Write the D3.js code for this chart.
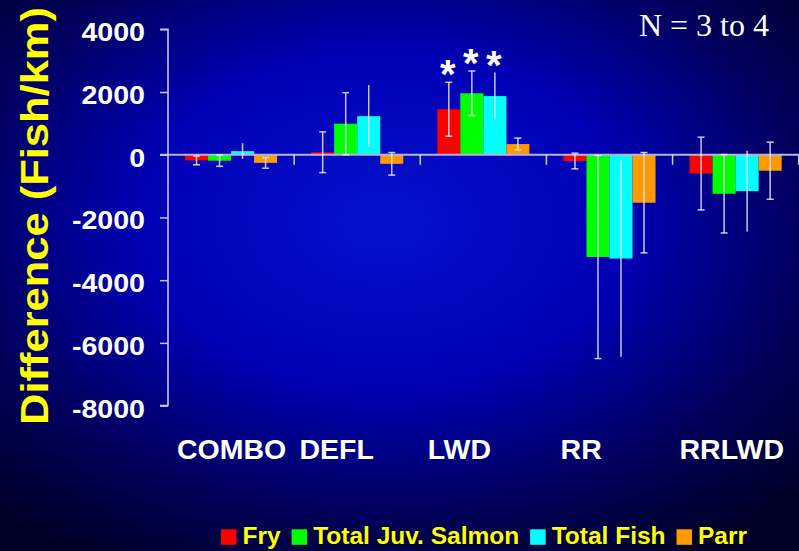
<!DOCTYPE html>
<html>
<head>
<meta charset="utf-8">
<script src="https://cdn.jsdelivr.net/npm/d3@7"></script>
<style>
  html, body { margin: 0; padding: 0; background: #000030; }
  svg { display: block; }
  text { font-family: "Liberation Sans", Arial, sans-serif; }
</style>
</head>
<body>
<div id="chart"></div>
<script>
// values
const categories = ['COMBO', 'DEFL', 'LWD', 'RR', 'RRLWD'];
const seriesNames = ['Fry', 'Total Juv. Salmon', 'Total Fish', 'Parr'];
const fry = [-180, 80, 1450, -200, -600];
const fryErr = [140, 650, 860, 250, 1160];
const juvSalmon = [-190, 990, 1960, -3260, -1245];
const juvSalmonErr = [180, 990, 710, 3240, 1250];
const totalFish = [115, 1230, 1870, -3310, -1160];
const totalFishErr = [250, 990, 750, 3130, 1290];
const parr = [-260, -290, 340, -1530, -510];
const parrErr = [170, 360, 190, 1600, 910];
// asterisks: one row per series
const significant = [[false, false, true, false, false],
                     [false, false, true, false, false],
                     [false, false, true, false, false],
                     [false, false, false, false, false]];
const yTicks = [-8000, -6000, -4000, -2000, 0, 2000, 4000];

const colors = ['#ff0000', '#00ff00', '#00ffff', '#ff9900'];
const values = [fry, juvSalmon, totalFish, parr];
const errors = [fryErr, juvSalmonErr, totalFishErr, parrErr];
const hasCaps = [true, true, false, true];
// labels on the slide are not centred on their groups
const labelShift = [0.6, -20.5, -23.9, -28.3, -3.9];

const W = 799, H = 551;
const svg = d3.select('#chart').append('svg')
  .attr('width', W).attr('height', H);

const defs = svg.append('defs');
const grad = defs.append('radialGradient')
  .attr('id', 'bg').attr('cx', 0.48).attr('cy', 0.4).attr('r', 0.72);
grad.append('stop').attr('offset', 0).attr('stop-color', '#0512cc');
grad.append('stop').attr('offset', 0.42).attr('stop-color', '#0000b4');
grad.append('stop').attr('offset', 0.75).attr('stop-color', '#000058');
grad.append('stop').attr('offset', 1).attr('stop-color', '#000026');
svg.append('rect').attr('width', W).attr('height', H).attr('fill', 'url(#bg)');

const left = 168, right = 798.7;
const x0 = d3.scaleBand().domain(categories).range([left, right]);
const x1 = d3.scaleBand().domain(seriesNames).range([0, x0.bandwidth()]).paddingOuter(0.74);
const y = d3.scaleLinear().domain([-8000, 4000]).range([405.6, 29.3]);

const rows = [];
seriesNames.forEach((s, si) => {
  categories.forEach((c, ci) => {
    rows.push({ s, si, c, ci, v: values[si][ci], e: errors[si][ci], sig: significant[si][ci] });
  });
});

// bars
svg.append('g').selectAll('rect')
  .data(rows)
  .enter().append('rect')
  .attr('x', d => x0(d.c) + x1(d.s))
  .attr('y', d => y(Math.max(0, d.v)))
  .attr('width', x1.bandwidth())
  .attr('height', d => Math.abs(y(d.v) - y(0)))
  .attr('fill', d => colors[d.si]);

// zero line + group separators
svg.append('line')
  .attr('x1', 160).attr('x2', W)
  .attr('y1', y(0)).attr('y2', y(0))
  .attr('stroke', '#b4b4dc').attr('stroke-width', 2);
svg.append('g').selectAll('line')
  .data(categories)
  .enter().append('line')
  .attr('x1', d => x0(d) + x0.bandwidth()).attr('x2', d => x0(d) + x0.bandwidth())
  .attr('y1', y(0)).attr('y2', y(0) + 10)
  .attr('stroke', '#d0d0ee').attr('stroke-width', 1.5);

// error bars
const eb = svg.append('g')
  .attr('stroke', '#e8e8f4').attr('stroke-opacity', 0.85).attr('stroke-width', 1.5);
rows.forEach(d => {
  const cx = x0(d.c) + x1(d.s) + x1.bandwidth() / 2;
  const top = y(d.v + d.e), bot = y(d.v - d.e);
  eb.append('line').attr('x1', cx).attr('x2', cx).attr('y1', top).attr('y2', bot);
  if (hasCaps[d.si]) {
    [top, bot].forEach(yy => eb.append('line')
      .attr('x1', cx - 3.5).attr('x2', cx + 3.5).attr('y1', yy).attr('y2', yy));
  }
});

// significance marks
svg.append('g').selectAll('text')
  .data(rows.filter(d => d.sig))
  .enter().append('text')
  .attr('x', d => x0(d.c) + x1(d.s) + x1.bandwidth() / 2 - 1)
  .attr('y', d => y(d.v + d.e) + 6)
  .attr('text-anchor', 'middle')
  .attr('fill', '#ffffff').attr('font-weight', 'bold').attr('font-size', 40)
  .text('*');

// y axis
const yAxis = svg.append('g')
  .attr('transform', `translate(${left},0)`)
  .call(d3.axisLeft(y).tickValues(yTicks).tickSize(8).tickPadding(15).tickFormat(d3.format('d')));
yAxis.select('.domain').attr('stroke', '#d0d0ee').attr('stroke-width', 1.5).attr('d', `M-8,${y(4000)}H0V${y(-8000)}H-8`);
yAxis.selectAll('.tick line').attr('stroke', '#c8c8e8').attr('stroke-width', 1.5);
yAxis.selectAll('.tick text')
  .attr('fill', '#ffffff').attr('font-size', 25.5).attr('font-weight', 'bold')
  .attr('font-family', '"Liberation Sans", Arial, sans-serif')
  .attr('dy', '0.45em')
  .text(d => d3.format('d')(d).replace('−', '-'))
  .each(function () {
    const len = this.getComputedTextLength();
    d3.select(this).attr('textLength', len * 1.12).attr('lengthAdjust', 'spacingAndGlyphs');
  });

// y title
const yt = svg.append('text')
  .attr('transform', 'translate(47.5,216) rotate(-90)')
  .attr('text-anchor', 'middle')
  .attr('fill', '#ffff00').attr('font-size', 39.5).attr('font-weight', 'bold')
  .text('Difference (Fish/km)');
yt.attr('textLength', 418).attr('lengthAdjust', 'spacingAndGlyphs');

// category labels
svg.append('g').selectAll('text')
  .data(categories)
  .enter().append('text')
  .attr('x', (d, i) => x0(d) + x0.bandwidth() / 2 + labelShift[i])
  .attr('y', 458.5)
  .attr('text-anchor', 'middle')
  .attr('fill', '#ffffff').attr('font-size', 28.5).attr('font-weight', 'bold')
  .text(d => d);

// N note
svg.append('text')
  .attr('x', 769).attr('y', 35.7)
  .attr('text-anchor', 'end')
  .attr('fill', '#ffffff').attr('font-size', 32)
  .style('font-family', '"Liberation Serif", "Times New Roman", serif')
  .text('N = 3 to 4');

// legend
const legend = svg.append('g');
let lx = 221;
seriesNames.forEach((s, i) => {
  legend.append('rect')
    .attr('x', lx).attr('y', 529.3).attr('width', 15.5).attr('height', 15.5)
    .attr('fill', colors[i]);
  const t = legend.append('text')
    .attr('x', lx + 21.5).attr('y', 544.3)
    .attr('fill', '#ffff00').attr('font-size', 24.5).attr('font-weight', 'bold')
    .text(s);
  lx += 21.5 + t.node().getComputedTextLength() + 11;
});
</script>
</body>
</html>
